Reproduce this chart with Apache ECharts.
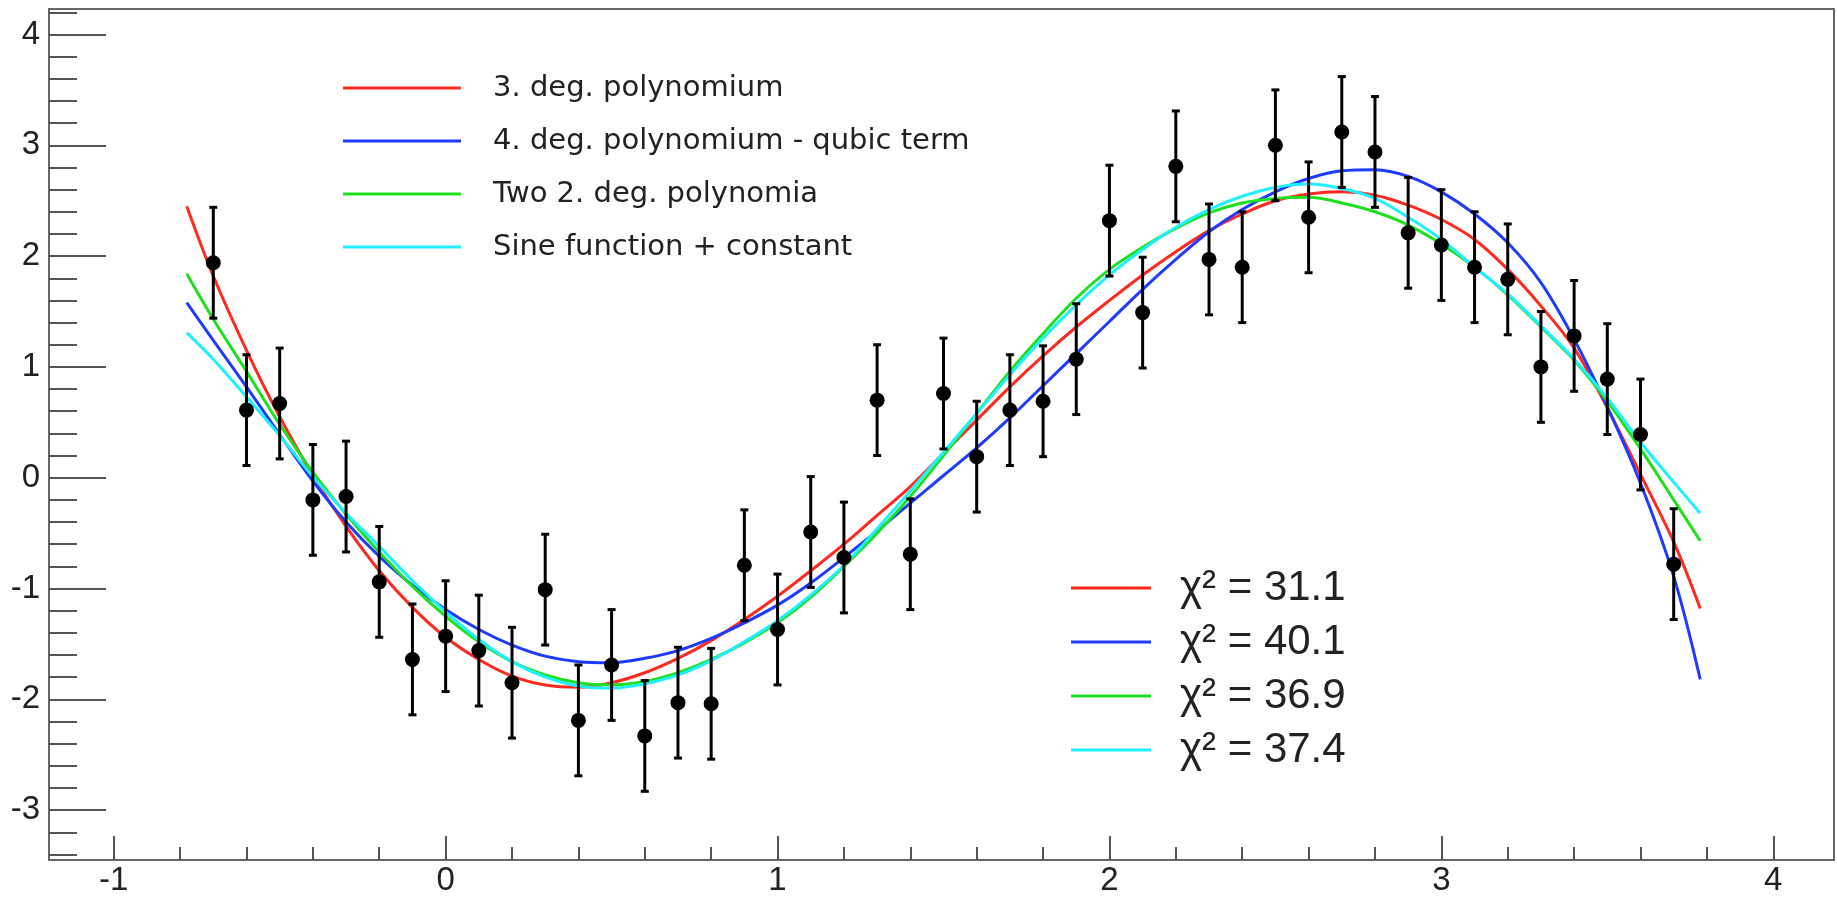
<!DOCTYPE html>
<html>
<head>
<meta charset="utf-8">
<title>Fit comparison</title>
<script src="https://cdn.jsdelivr.net/npm/echarts@6/dist/echarts.min.js"></script>
<style>
  html, body { margin: 0; padding: 0; background: #fff; }
  #chart { width: 1837px; height: 898px; }
</style>
</head>
<body>
<div id="chart"></div>
<script>
// measured points (value +- error)
const pointX = [-0.7, -0.6, -0.5, -0.4, -0.3, -0.2, -0.1, 0, 0.1, 0.2, 0.3, 0.4, 0.5, 0.6, 0.7, 0.8, 0.9,
  1, 1.1, 1.2, 1.3, 1.4, 1.5, 1.6, 1.7, 1.8, 1.9, 2, 2.1, 2.2, 2.3, 2.4, 2.5, 2.6, 2.7, 2.8, 2.9,
  3, 3.1, 3.2, 3.3, 3.4, 3.5, 3.6, 3.7];
const pointY = [1.94, 0.61, 0.67, -0.20, -0.17, -0.94, -1.64, -1.43, -1.56, -1.85, -1.01, -2.19, -1.69, -2.33, -2.03, -2.04, -0.79,
  -1.37, -0.49, -0.72, 0.70, -0.69, 0.76, 0.19, 0.61, 0.69, 1.07, 2.32, 1.49, 2.81, 1.97, 1.90, 3.00, 2.35, 3.12, 2.94, 2.21,
  2.10, 1.90, 1.79, 1.00, 1.28, 0.89, 0.39, -0.78];
const pointErr = [0.5, 0.5, 0.5, 0.5, 0.5, 0.5, 0.5, 0.5, 0.5, 0.5, 0.5, 0.5, 0.5, 0.5, 0.5, 0.5, 0.5,
  0.5, 0.5, 0.5, 0.5, 0.5, 0.5, 0.5, 0.5, 0.5, 0.5, 0.5, 0.5, 0.5, 0.5, 0.5, 0.5, 0.5, 0.5, 0.5, 0.5,
  0.5, 0.5, 0.5, 0.5, 0.5, 0.5, 0.5, 0.5];

// fit curves
const curveX = [-0.78, -0.7, -0.6, -0.5, -0.4, -0.3, -0.2, -0.1,
  0, 0.1, 0.2, 0.3, 0.4, 0.5, 0.6, 0.7, 0.8, 0.9,
  1, 1.1, 1.2, 1.3, 1.4, 1.5, 1.6, 1.7, 1.8, 1.9,
  2, 2.1, 2.2, 2.3, 2.4, 2.5, 2.6, 2.7, 2.8, 2.9,
  3, 3.1, 3.2, 3.3, 3.4, 3.5, 3.6, 3.7, 3.78];
const cubicY = [2.45, 1.82, 1.15, 0.55, 0.02, -0.44, -0.84, -1.17,
  -1.44, -1.64, -1.79, -1.87, -1.89, -1.85, -1.76, -1.63, -1.47, -1.28,
  -1.07, -0.84, -0.60, -0.34, -0.08, 0.22, 0.52, 0.82, 1.10, 1.36,
  1.60, 1.83, 2.04, 2.23, 2.38, 2.50, 2.56, 2.58, 2.55, 2.46,
  2.33, 2.15, 1.88, 1.55, 1.17, 0.63, 0.03, -0.58, -1.18];
const quarticY = [1.58, 1.24, 0.82, 0.39, -0.03, -0.40, -0.71, -0.97,
  -1.19, -1.37, -1.51, -1.61, -1.66, -1.67, -1.63, -1.56, -1.45, -1.31,
  -1.15, -0.95, -0.72, -0.48, -0.23, 0.02, 0.27, 0.54, 0.83, 1.12,
  1.41, 1.70, 1.97, 2.22, 2.42, 2.58, 2.70, 2.77, 2.78, 2.72,
  2.58, 2.38, 2.12, 1.76, 1.25, 0.64, -0.05, -0.89, -1.82];
const twoParY = [1.84, 1.43, 0.96, 0.48, 0.05, -0.33, -0.67, -0.98,
  -1.25, -1.48, -1.66, -1.78, -1.85, -1.87, -1.84, -1.76, -1.64, -1.49,
  -1.31, -1.08, -0.80, -0.50, -0.17, 0.20, 0.58, 0.96, 1.30, 1.62,
  1.88, 2.08, 2.25, 2.39, 2.48, 2.52, 2.53, 2.48, 2.40, 2.28,
  2.11, 1.90, 1.65, 1.36, 1.06, 0.69, 0.26, -0.20, -0.57];
const sineY = [1.31, 1.07, 0.73, 0.38, 0.01, -0.32, -0.62, -0.93,
  -1.21, -1.46, -1.66, -1.80, -1.88, -1.90, -1.86, -1.78, -1.65, -1.48,
  -1.29, -1.06, -0.79, -0.46, -0.12, 0.23, 0.58, 0.93, 1.26, 1.56,
  1.83, 2.06, 2.26, 2.42, 2.54, 2.62, 2.65, 2.61, 2.52, 2.35,
  2.15, 1.90, 1.66, 1.37, 1.07, 0.72, 0.32, -0.04, -0.32];

const fitNames = ['3. deg. polynomium', '4. deg. polynomium - qubic term', 'Two 2. deg. polynomia', 'Sine function + constant'];
const chiLabels = ['χ² = 31.1', 'χ² = 40.1', 'χ² = 36.9', 'χ² = 37.4'];

const xMajor = [-1, 0, 1, 2, 3, 4];
const xMinor = [-0.8, -0.6, -0.4, -0.2, 0.2, 0.4, 0.6, 0.8, 1.2, 1.4, 1.6, 1.8, 2.2, 2.4, 2.6, 2.8, 3.2, 3.4, 3.6, 3.8];
const yMajor = [-3, -2, -1, 0, 1, 2, 3, 4];
const yMinor = [-3.4, -3.2, -2.8, -2.6, -2.4, -2.2, -1.8, -1.6, -1.4, -1.2, -0.8, -0.6, -0.4, -0.2,
  0.2, 0.4, 0.6, 0.8, 1.2, 1.4, 1.6, 1.8, 2.2, 2.4, 2.6, 2.8, 3.2, 3.4, 3.6, 3.8, 4.2];

const fitColors = ['#ff2a1f', '#1f3bff', '#1fe01f', '#1ff0ff'];
const FONT = '"Liberation Sans", Arial, Helvetica, sans-serif';
const X_MIN = -1.195, X_MAX = 4.183, Y_MIN = -3.45, Y_MAX = 4.23;

function initChart() {
  const el = document.getElementById('chart');
  const chart = echarts.init(el, null, { renderer: 'canvas' });

  const curves = [cubicY, quarticY, twoParY, sineY];
  const series = [];
  curves.forEach(function (ys, i) {
    series.push({
      name: fitNames[i],
      type: 'line',
      data: curveX.map(function (x, k) { return [x, ys[k]]; }),
      smooth: 0.35,
      showSymbol: false,
      color: fitColors[i],
      lineStyle: { width: 3, color: fitColors[i] },
      z: 2,
      silent: true
    });
  });
  // chi2 legend entries only
  chiLabels.forEach(function (lab, i) {
    series.push({ name: lab, type: 'line', data: [], color: fitColors[i], lineStyle: { color: fitColors[i] } });
  });

  const pts = pointX.map(function (x, i) { return [x, pointY[i], pointErr[i]]; });
  series.push({
    type: 'custom',
    data: pts,
    encode: { x: 0, y: 1 },
    z: 3,
    renderItem: function (params, api) {
      const x = api.value(0), y = api.value(1), e = api.value(2);
      const hi = api.coord([x, y + e]);
      const lo = api.coord([x, y - e]);
      const cw = 4;
      const st = { stroke: '#000', lineWidth: 3 };
      return {
        type: 'group',
        children: [
          { type: 'line', shape: { x1: hi[0], y1: hi[1], x2: lo[0], y2: lo[1] }, style: st },
          { type: 'line', shape: { x1: hi[0] - cw, y1: hi[1], x2: hi[0] + cw, y2: hi[1] }, style: st },
          { type: 'line', shape: { x1: lo[0] - cw, y1: lo[1], x2: lo[0] + cw, y2: lo[1] }, style: st }
        ]
      };
    }
  });
  series.push({
    type: 'scatter',
    data: pts.map(function (p) { return [p[0], p[1]]; }),
    symbol: 'circle',
    symbolSize: 15,
    itemStyle: { color: '#000', opacity: 1 },
    z: 4
  });

  const tickStyle = { color: '#555', width: 2 };
  const labelStyle = { fontFamily: FONT, fontSize: 33, color: '#222' };
  const noLine = { show: false, onZero: false };

  chart.setOption({
    animation: false,
    backgroundColor: '#fff',
    grid: {
      left: 49, top: 9, width: 1785, height: 851,
      show: true, borderColor: '#666', borderWidth: 2, backgroundColor: 'transparent'
    },
    legend: [{
      orient: 'vertical', left: 343, top: 72, padding: 0,
      icon: 'rect', itemWidth: 118, itemHeight: 3, itemGap: 21,
      selectedMode: false, data: fitNames,
      textStyle: { fontFamily: '"DejaVu Sans", sans-serif', fontSize: 29, color: '#222', lineHeight: 32, padding: [0, 0, 0, 27] }
    }, {
      orient: 'vertical', left: 1071, top: 565, padding: 0,
      icon: 'rect', itemWidth: 80, itemHeight: 3, itemGap: 8,
      selectedMode: false, data: chiLabels,
      textStyle: { fontFamily: FONT, fontSize: 42, color: '#222', lineHeight: 46, padding: [0, 0, 0, 24] }
    }],
    xAxis: [{
      type: 'value', min: X_MIN, max: X_MAX, position: 'bottom',
      axisLine: noLine,
      splitLine: { show: false },
      axisTick: { inside: true, length: 24, lineStyle: tickStyle, customValues: xMajor },
      axisLabel: Object.assign({ margin: 4, customValues: xMajor }, labelStyle)
    }, {
      type: 'value', min: X_MIN, max: X_MAX, position: 'bottom',
      axisLine: noLine,
      splitLine: { show: false },
      axisTick: { inside: true, length: 13, lineStyle: tickStyle, customValues: xMinor },
      axisLabel: { show: false }
    }],
    yAxis: [{
      type: 'value', min: Y_MIN, max: Y_MAX, position: 'left',
      axisLine: noLine,
      splitLine: { show: false },
      axisTick: { inside: true, length: 57, lineStyle: tickStyle, customValues: yMajor },
      axisLabel: Object.assign({ margin: 9, customValues: yMajor }, labelStyle)
    }, {
      type: 'value', min: Y_MIN, max: Y_MAX, position: 'left',
      axisLine: noLine,
      splitLine: { show: false },
      axisTick: { inside: true, length: 28, lineStyle: tickStyle, customValues: yMinor },
      axisLabel: { show: false }
    }],
    series: series
  });

  window.addEventListener('resize', function () { chart.resize(); });
}
document.addEventListener('DOMContentLoaded', initChart);
</script>
</body>
</html>
